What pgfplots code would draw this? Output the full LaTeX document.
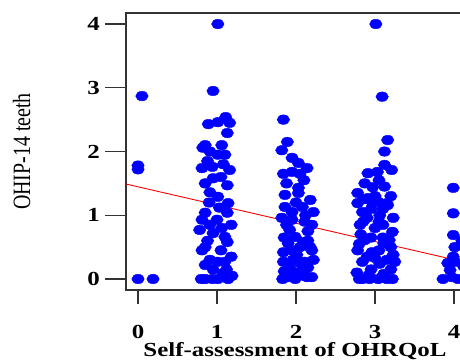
\documentclass[border=0pt]{standalone}
\usepackage{pgfplots}
\pgfplotsset{compat=1.18}
\usepackage{pgfplotstable}
\usepackage{fontspec}
\setmainfont{Liberation Serif}
\newcommand\sx[1]{\scalebox{1.25}[1]{#1}}
\pgfplotstableread{
x y
0.05 2.87
0.00 1.78
0.00 1.72
0.00 0.00
0.19 0.00
1.01 4.00
0.95 2.95
1.11 2.54
0.89 2.43
1.01 2.46
1.16 2.45
1.13 2.29
0.85 2.10
0.82 2.06
0.91 2.00
1.10 1.95
1.01 1.95
0.81 1.74
0.94 1.76
1.16 1.71
0.85 1.50
0.95 1.58
1.13 1.47
0.91 1.36
1.01 1.29
1.14 1.19
0.85 1.04
1.13 1.04
0.81 0.93
0.91 0.85
1.00 0.93
0.78 0.77
1.06 0.80
0.95 0.72
1.10 0.66
1.13 0.58
0.85 0.50
0.81 0.45
0.91 0.30
1.01 0.27
1.10 0.27
1.08 0.09
0.85 0.00
0.94 0.00
1.01 0.00
1.14 0.00
1.19 0.05
0.88 0.60
1.05 0.45
0.95 0.15
1.12 0.15
0.85 0.22
1.03 1.12
0.90 1.20
1.05 1.60
0.88 1.85
1.08 1.80
1.06 2.10
1.18 0.85
0.80 0.00
1.18 0.35
1.84 2.50
1.89 2.15
1.82 2.02
1.95 1.90
2.03 1.82
2.14 1.74
1.84 1.65
1.95 1.68
2.03 1.43
1.86 1.32
2.03 1.35
2.18 1.24
1.86 1.13
2.08 1.13
2.22 1.05
1.82 0.96
1.95 0.93
2.11 0.90
1.92 0.77
1.99 0.66
1.90 0.56
2.09 0.58
1.84 0.42
2.20 0.45
2.01 0.38
1.84 0.27
2.11 0.27
2.22 0.30
1.92 0.17
2.08 0.14
1.90 0.03
1.99 0.00
2.14 0.03
2.20 0.03
1.88 1.50
2.10 1.55
2.00 1.20
1.95 1.05
2.15 0.75
1.85 0.65
2.05 0.50
1.95 0.45
2.15 0.60
1.88 0.85
2.20 0.85
2.00 0.10
1.85 0.12
2.15 0.18
2.05 0.25
1.96 0.30
2.10 0.05
1.83 0.00
2.12 1.00
2.18 0.50
2.05 1.65
3.01 4.00
3.09 2.86
3.16 2.18
3.12 2.00
3.12 1.79
3.21 1.71
2.91 1.66
3.03 1.68
2.87 1.50
2.97 1.44
2.78 1.35
2.91 1.27
3.04 1.21
3.15 1.19
2.78 1.19
2.96 1.21
3.16 1.16
2.84 1.05
3.06 1.00
3.23 0.96
2.81 0.85
3.00 0.80
3.22 0.74
2.87 0.61
3.11 0.56
2.78 0.45
2.96 0.42
3.23 0.38
2.84 0.27
3.06 0.24
3.25 0.27
2.77 0.10
2.92 0.06
3.11 0.08
2.84 0.00
3.04 0.00
3.22 0.00
3.00 0.33
2.90 0.96
3.18 0.61
2.95 1.10
3.10 1.10
2.85 0.90
3.10 0.85
2.95 0.65
3.20 0.50
2.80 0.55
3.05 0.45
2.90 0.35
3.15 0.30
2.95 0.15
3.20 0.15
3.10 0.65
2.82 0.70
3.00 1.30
3.20 1.30
2.85 1.25
3.05 0.90
3.12 1.45
2.80 0.00
3.15 0.00
3.05 1.55
2.93 0.00
3.99 1.43
3.99 1.03
3.99 0.69
4.01 0.50
3.99 0.35
3.92 0.25
4.01 0.27
3.86 0.00
3.97 0.03
4.05 0.00
3.95 0.14
4.10 0.60
4.12 0.20
}\pts
\begin{document}
\begin{tikzpicture}
\path[use as bounding box] (0,0) rectangle (460bp,360bp);
\clip (0,0) rectangle (460bp,360bp);
\begin{axis}[
  at={(126bp,70bp)}, anchor=south west,
  scale only axis, width=338bp, height=277bp,
  xmin=-0.152, xmax=4.126, ymin=-0.1725, ymax=4.173,
  axis line style={line width=1.2bp, black!80},
  tick style={line width=1.2bp, black!80},
  tick align=outside, xtick pos=bottom, ytick pos=left,
  major tick length=21bp,
  xtick style={/pgfplots/major tick length=14bp},
  xtick={0,1,2,3,4}, ytick={0,1,2,3,4},
  xticklabels={\sx{0},\sx{1},\sx{2},\sx{3},\sx{4}},
  yticklabels={\sx{0},\sx{1},\sx{2},\sx{3},\sx{4}},
  ticklabel style={font=\fontsize{20}{24}\selectfont\bfseries, inner sep=0pt},
  xticklabel style={anchor=base, yshift=-27bp},
  yticklabel style={anchor=east, xshift=-5bp},
  xlabel={\sx{Self-assessment of OHRQoL}},
  ylabel={\scalebox{1}[1.25]{OHIP-14 teeth}},
  xlabel style={font=\fontsize{20}{24}\selectfont\bfseries, at={(axis description cs:0.5,0)}, anchor=base, yshift=-66bp, inner sep=0pt},
  ylabel style={font=\fontsize{20}{24}\selectfont, at={(axis description cs:-0.284,0.5)}, anchor=base, inner sep=0pt},
]
\addplot[only marks, mark=*, mark size=4.8bp, blue, mark options={xscale=1.3, fill=blue, draw=none}] table {\pts};
\addplot[red, line width=0.9bp] coordinates {(-0.152,1.49) (4.126,0.267)};
\end{axis}
\end{tikzpicture}
\end{document}
